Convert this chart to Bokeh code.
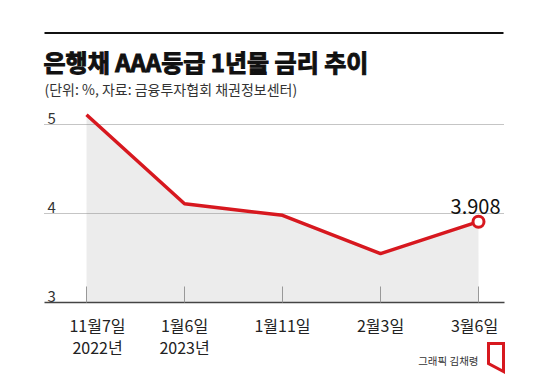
from bokeh.plotting import figure
from bokeh.models import Range1d
from bokeh.core.properties import value
from bokeh.embed import file_html
from bokeh.resources import INLINE

# ---- data ----
dates = ["11월7일", "1월6일", "1월11일", "2월3일", "3월6일"]
years = ["2022년", "2023년", "", "", ""]
rates = [5.11, 4.11, 3.98, 3.55, 3.908]
y_ticks = [3, 4, 5]
grid_vals = [4, 5]
last_label = "3.908"
title = "은행채 AAA등급 1년물 금리 추이"
subtitle = "(단위: %, 자료: 금융투자협회 채권정보센터)"
credit = "그래픽 김채령"

# ---- layout constants (pixels) ----
W, H = 550, 376
X0, DX = 86, 98      # pixel of first category, pixel step
Y3, DY = 302, 89     # pixel of value 3, pixels per unit

def X(px):
    return (px - X0) / DX

def Y(py):
    return 3 + (Y3 - py) / DY

FONT = value("Noto Sans CJK KR")
RED = "#d7181f"
idx = list(range(len(dates)))

p = figure(width=W, height=H, output_backend="svg", toolbar_location=None,
           x_range=Range1d(X(0), X(W)), y_range=Range1d(Y(H), Y(0)),
           x_axis_location=None, y_axis_location=None, min_border=0,
           outline_line_color=None, background_fill_color="white",
           border_fill_color="white")
p.grid.visible = False

# top rule
p.segment(x0=[X(44)], y0=[Y(32.5)], x1=[X(503)], y1=[Y(32.5)],
          line_color="#111111", line_width=2)

# title & subtitle
p.text(x=[X(43)], y=[Y(61)], text=[title], text_font=FONT,
       text_font_size="24px", text_font_style="bold", text_color="#111111",
       text_outline_color="#111111",
       text_baseline="alphabetic", text_align="left")
p.text(x=[X(44)], y=[Y(88)], text=[subtitle], text_font=FONT,
       text_font_size="14px", text_color="#333333",
       text_baseline="alphabetic", text_align="left")

# area under the line
p.varea(x=idx, y1=[y_ticks[0]] * len(idx), y2=rates, fill_color="#ececec")

# dotted gridlines
p.segment(x0=[X(44)] * len(grid_vals), y0=grid_vals,
          x1=[X(503)] * len(grid_vals), y1=grid_vals,
          line_color="#8a8a8a", line_width=1, line_dash="1 1")

# y tick labels (above the lines)
p.text(x=[X(47)] * len(y_ticks), y=y_ticks, text=[str(v) for v in y_ticks],
       y_offset=-6, text_font=FONT, text_font_size="15px",
       text_color="#333333", text_baseline="alphabetic", text_align="left")

# x axis line and ticks
p.segment(x0=[X(44)], y0=[y_ticks[0]], x1=[X(504)], y1=[y_ticks[0]],
          line_color="#444444", line_width=1.5)
p.segment(x0=idx, y0=[y_ticks[0]] * len(idx), x1=idx,
          y1=[y_ticks[0] + 16 / DY] * len(idx),
          line_color="#999999", line_width=1)

# x labels
shift = [11, 0, 0, 0, -4]
p.text(x=idx, y=[y_ticks[0]] * len(idx), text=dates, x_offset=shift,
       y_offset=22, text_font=FONT, text_font_size="16px",
       text_color="#222222", text_baseline="alphabetic", text_align="center")
p.text(x=idx, y=[y_ticks[0]] * len(idx), text=years, x_offset=shift,
       y_offset=44, text_font=FONT, text_font_size="16px",
       text_color="#222222", text_baseline="alphabetic", text_align="center")

# the red line and end marker
p.line(idx, rates, line_color=RED, line_width=3.5, line_join="round")
p.scatter(x=[idx[-1]], y=[rates[-1]], size=11, marker="circle",
          fill_color="white", line_color=RED, line_width=3)
p.text(x=[idx[-1]], y=[rates[-1]], text=[last_label], x_offset=22,
       y_offset=-15, text_font=FONT, text_font_size="20px",
       text_color="#111111", text_baseline="alphabetic", text_align="right")

# credit and logo
p.text(x=[X(478)], y=[Y(360)], text=[credit], text_font=FONT,
       text_font_size="10.5px", text_color="#333333",
       text_baseline="alphabetic", text_align="right")
p.patch(x=[X(488), X(503), X(503), X(488)],
        y=[Y(343), Y(343), Y(371), Y(363)],
        fill_color=None, line_color=RED, line_width=3, line_join="miter")

open("out.html", "w").write(file_html(p, INLINE))
